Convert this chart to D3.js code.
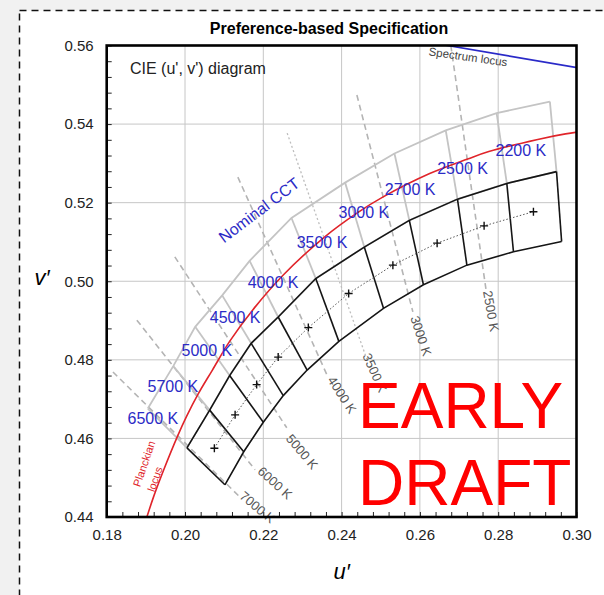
<!DOCTYPE html>
<html>
<head>
<meta charset="utf-8">
<script src="https://cdn.jsdelivr.net/npm/d3@7"></script>
<style>
  body { margin: 0; background: #f1f1f1; }
  svg text { font-family: "Liberation Sans", Arial, sans-serif; }
</style>
</head>
<body>
<div id="container"></div>
<script>
/* CONSTANTS AND GLOBALS */
const width = 604;
const height = 595;
const margin = {top: 45.5, bottom: 78, left: 106.7, right: 27.5};

/* DATA */
const uTicks = [0.18, 0.20, 0.22, 0.24, 0.26, 0.28, 0.30];
const vTicks = [0.44, 0.46, 0.48, 0.50, 0.52, 0.54, 0.56];

// Planckian locus, u' and v' by CCT
const planckT = [11000, 10000, 9000, 8000, 7000, 6500, 6000, 5500, 5000, 4500, 4000, 3500, 3200, 3000, 2700, 2500, 2400, 2200, 2100, 2000];
const planckU = [0.1889, 0.1903, 0.1921, 0.1946, 0.1981, 0.2004, 0.2033, 0.2070, 0.2114, 0.2173, 0.2251, 0.2357, 0.2440, 0.2505, 0.2625, 0.2722, 0.2776, 0.2901, 0.2972, 0.3051];
const planckV = [0.4355, 0.4401, 0.4455, 0.4521, 0.4606, 0.4656, 0.4712, 0.4774, 0.4847, 0.4927, 0.5016, 0.5113, 0.5174, 0.5214, 0.5274, 0.5311, 0.5330, 0.5361, 0.5375, 0.5386];

// spectrum locus segment
const specU = [0.2600, 0.3100];
const specV = [0.5612, 0.5527];

// nominal CCT quadrangles: outer corners and shared inner corners
const nomCCT = ["6500 K", "5700 K", "5000 K", "4500 K", "4000 K", "3500 K", "3000 K", "2700 K", "2500 K", "2200 K"];
const nomOuterU = [0.1905, 0.1970, 0.2026, 0.2095, 0.2165, 0.2272, 0.2409, 0.2535, 0.2666, 0.2796, 0.2932];
const nomOuterV = [0.4676, 0.4784, 0.4884, 0.4964, 0.5052, 0.5161, 0.5251, 0.5325, 0.5384, 0.5428, 0.5457];
const nomInnerU = [0.2005, 0.2063, 0.2114, 0.2169, 0.2238, 0.2334, 0.2458, 0.2573, 0.2696, 0.2822, 0.2949];
const nomInnerV = [0.4576, 0.4672, 0.4760, 0.4842, 0.4909, 0.5007, 0.5087, 0.5155, 0.5209, 0.5249, 0.5279];

// preference-based quadrangles: lower corners and centres
const prefLowerU = [0.2102, 0.2150, 0.2200, 0.2251, 0.2312, 0.2393, 0.2507, 0.2609, 0.2720, 0.2839, 0.2962];
const prefLowerV = [0.4482, 0.4566, 0.4641, 0.4709, 0.4774, 0.4847, 0.4931, 0.4991, 0.5041, 0.5075, 0.5101];
const prefCenterU = [0.2075, 0.2128, 0.2183, 0.2238, 0.2315, 0.2418, 0.2531, 0.2644, 0.2764, 0.2890];
const prefCenterV = [0.4575, 0.4660, 0.4737, 0.4807, 0.4882, 0.4969, 0.5041, 0.5097, 0.5141, 0.5177];

// isotemperature lines
const isoCCT = ["7000 K", "6000 K", "5000 K", "4000 K", "3500 K", "3000 K", "2500 K"];
const isoU1 = [0.1816, 0.1877, 0.1974, 0.2135, 0.2261, 0.2439, 0.2679];
const isoV1 = [0.4769, 0.4901, 0.5062, 0.5265, 0.5377, 0.5474, 0.5600];
const isoU2 = [0.2140, 0.2179, 0.2260, 0.2363, 0.2465, 0.2582, 0.2769];
const isoV2 = [0.4451, 0.4520, 0.4627, 0.4761, 0.4800, 0.4922, 0.4978];
const isoDotted = [false, false, false, false, true, false, false];

// label anchors (data units) and angles
const nomLabelU = [0.1918, 0.1969, 0.2056, 0.2128, 0.2225, 0.2350, 0.2457, 0.2575, 0.2709, 0.2858];
const nomLabelV = [0.4652, 0.4733, 0.4825, 0.4907, 0.4998, 0.5100, 0.5176, 0.5235, 0.5286, 0.5332];
const isoLabelU = [0.2185, 0.2230, 0.2299, 0.2401, 0.2485, 0.2603, 0.2782];
const isoLabelV = [0.4425, 0.4487, 0.4566, 0.4711, 0.4767, 0.4861, 0.4924];
const isoLabelAngle = [40, 42, 50, 57, 66, 72, 80];

/* SCALES */
const xScale = d3.scaleLinear()
  .domain([0.18, 0.30])
  .range([margin.left, width - margin.right]);

const yScale = d3.scaleLinear()
  .domain([0.44, 0.56])
  .range([height - margin.bottom, margin.top]);

const pts = (us, vs) => us.map((u, i) => [xScale(u), yScale(vs[i])]);
const line = d3.line();

/* SVG */
const svg = d3.select("#container")
  .append("svg")
  .attr("width", width)
  .attr("height", height);

// dashed frame of the page
svg.append("rect")
  .attr("x", 19.5).attr("y", 10.5)
  .attr("width", width).attr("height", height)
  .attr("fill", "white")
  .attr("stroke", "#111")
  .attr("stroke-width", 1.5)
  .attr("stroke-dasharray", "7,5");

svg.append("clipPath").attr("id", "plot")
  .append("rect")
  .attr("x", margin.left).attr("y", margin.top)
  .attr("width", xScale(0.30) - margin.left)
  .attr("height", yScale(0.44) - margin.top);

// grid
const grid = svg.append("g").attr("stroke", "#c6c6c6").attr("stroke-width", 1);
grid.selectAll("line.gx").data(uTicks).join("line")
  .attr("x1", d => xScale(d)).attr("x2", d => xScale(d))
  .attr("y1", yScale(0.44)).attr("y2", yScale(0.56));
grid.selectAll("line.gy").data(vTicks).join("line")
  .attr("class", "gy")
  .attr("y1", d => yScale(d)).attr("y2", d => yScale(d))
  .attr("x1", xScale(0.18)).attr("x2", xScale(0.30));

const plot = svg.append("g").attr("clip-path", "url(#plot)");

// isotemperature lines
plot.selectAll("line.iso")
  .data(isoCCT)
  .join("line")
  .attr("class", "iso")
  .attr("x1", (d, i) => xScale(isoU1[i]))
  .attr("y1", (d, i) => yScale(isoV1[i]))
  .attr("x2", (d, i) => xScale(isoU2[i]))
  .attr("y2", (d, i) => yScale(isoV2[i]))
  .attr("stroke", (d, i) => isoDotted[i] ? "#bdbdbd" : "#b4b4b4")
  .attr("stroke-width", (d, i) => isoDotted[i] ? 1.3 : 1.6)
  .attr("stroke-dasharray", (d, i) => isoDotted[i] ? "2,2.5" : "6,4");

// nominal CCT quadrangles (grey)
const outer = pts(nomOuterU, nomOuterV);
const inner = pts(nomInnerU, nomInnerV);
const lower = pts(prefLowerU, prefLowerV);

const nom = plot.append("g").attr("fill", "none").attr("stroke", "#c4c4c4").attr("stroke-width", 1.8);
nom.append("path").attr("d", line(outer));
nom.append("path").attr("d", line(inner));
nom.selectAll("line").data(outer).join("line")
  .attr("x1", d => d[0]).attr("y1", d => d[1])
  .attr("x2", (d, i) => inner[i][0]).attr("y2", (d, i) => inner[i][1]);

// Planckian locus
plot.append("path")
  .attr("d", d3.line().curve(d3.curveCatmullRom)(pts(planckU, planckV)))
  .attr("fill", "none")
  .attr("stroke", "#e0242a")
  .attr("stroke-width", 1.6);

// spectrum locus
plot.append("path")
  .attr("d", line(pts(specU, specV)))
  .attr("fill", "none")
  .attr("stroke", "#2a2ac8")
  .attr("stroke-width", 1.6);

// preference-based quadrangles (black)
const pref = plot.append("g").attr("fill", "none").attr("stroke", "#151515").attr("stroke-width", 1.6);
pref.append("path").attr("d", line(inner));
pref.append("path").attr("d", line(lower));
pref.selectAll("line").data(inner).join("line")
  .attr("x1", d => d[0]).attr("y1", d => d[1])
  .attr("x2", (d, i) => lower[i][0]).attr("y2", (d, i) => lower[i][1]);

const centers = pts(prefCenterU, prefCenterV);
plot.append("path")
  .attr("d", line(centers))
  .attr("fill", "none")
  .attr("stroke", "#555")
  .attr("stroke-width", 1)
  .attr("stroke-dasharray", "1.5,2");

plot.selectAll("path.cross")
  .data(centers)
  .join("path")
  .attr("class", "cross")
  .attr("d", d => `M${d[0] - 4},${d[1]}H${d[0] + 4}M${d[0]},${d[1] - 4}V${d[1] + 4}`)
  .attr("stroke", "#111")
  .attr("stroke-width", 1.4);

// labels
svg.selectAll("text.iso")
  .data(isoCCT)
  .join("text")
  .attr("class", "iso")
  .attr("transform", (d, i) => `translate(${xScale(isoLabelU[i])},${yScale(isoLabelV[i])}) rotate(${isoLabelAngle[i]})`)
  .attr("text-anchor", "middle")
  .attr("dy", "0.35em")
  .attr("font-size", 13)
  .attr("fill", "#555")
  .text(d => d);

svg.selectAll("text.nom")
  .data(nomCCT)
  .join("text")
  .attr("class", "nom")
  .attr("x", (d, i) => xScale(nomLabelU[i]))
  .attr("y", (d, i) => yScale(nomLabelV[i]))
  .attr("text-anchor", "middle")
  .attr("dy", "0.35em")
  .attr("font-size", 16)
  .attr("fill", "#2b2bc6")
  .text(d => d);

svg.append("text")
  .attr("transform", `translate(${xScale(0.2189)},${yScale(0.5181)}) rotate(-37)`)
  .attr("text-anchor", "middle").attr("dy", "0.35em")
  .attr("font-size", 16).attr("fill", "#2b2bc6")
  .text("Nominal CCT");

const planckLabel = svg.append("text")
  .attr("transform", `translate(${xScale(0.1885)},${yScale(0.4475)}) rotate(-71)`)
  .attr("font-size", 11).attr("fill", "#e0242a");
planckLabel.append("tspan").attr("x", 0).attr("dy", "0").text("Planckian");
planckLabel.append("tspan").attr("x", 0).attr("dy", "1.4em").text("locus");

svg.append("text")
  .attr("transform", `translate(${xScale(0.2723)},${yScale(0.5571)}) rotate(8)`)
  .attr("text-anchor", "middle").attr("dy", "0.35em")
  .attr("font-size", 11.5).attr("fill", "#444")
  .text("Spectrum locus");

svg.append("text")
  .attr("x", 130).attr("y", 74)
  .attr("font-size", 16).attr("fill", "#222")
  .text("CIE (u', v') diagram");

// draft stamp
const stamp = svg.append("g").attr("fill", "#ff0000").attr("font-size", 64);
stamp.append("text").attr("x", 358).attr("y", 428).text("EARLY");
stamp.append("text").attr("x", 358).attr("y", 505).text("DRAFT");

/* AXES */
const xAxisGroup = svg.append("g")
  .attr("transform", `translate(0,${yScale(0.44)})`)
  .call(d3.axisBottom(xScale).tickValues(uTicks).tickFormat(d3.format(".2f")).tickSize(0).tickPadding(12));
const yAxisGroup = svg.append("g")
  .attr("transform", `translate(${xScale(0.18)},0)`)
  .call(d3.axisLeft(yScale).tickValues(vTicks).tickFormat(d3.format(".2f")).tickSize(0).tickPadding(13));

svg.append("g")
  .attr("transform", `translate(0,${yScale(0.44)})`)
  .call(d3.axisBottom(xScale).tickValues(d3.range(0.18, 0.3001, 0.004)).tickFormat("").tickSize(-5));
svg.append("g")
  .attr("transform", `translate(${xScale(0.18)},0)`)
  .call(d3.axisLeft(yScale).tickValues(d3.range(0.44, 0.5601, 0.004)).tickFormat("").tickSize(-5));

svg.selectAll(".domain").remove();
svg.selectAll(".tick text").attr("font-size", 15).attr("fill", "#222")
  .attr("font-family", "Liberation Sans, Arial, sans-serif");
svg.selectAll(".tick line").attr("stroke", "#222");

svg.append("rect")
  .attr("x", xScale(0.18)).attr("y", yScale(0.56))
  .attr("width", xScale(0.30) - xScale(0.18))
  .attr("height", yScale(0.44) - yScale(0.56))
  .attr("fill", "none")
  .attr("stroke", "#000")
  .attr("stroke-width", 2.6);

// titles
svg.append("text")
  .attr("x", 329).attr("y", 34)
  .attr("text-anchor", "middle")
  .attr("font-size", 16).attr("font-weight", "bold")
  .text("Preference-based Specification");

svg.append("text")
  .attr("x", xScale(0.24)).attr("y", 579)
  .attr("text-anchor", "middle")
  .attr("font-family", "Liberation Serif, serif").attr("font-style", "italic")
  .attr("font-size", 22)
  .text("u\u2032");

svg.append("text")
  .attr("x", 42).attr("y", 285)
  .attr("text-anchor", "middle")
  .attr("font-family", "Liberation Serif, serif").attr("font-style", "italic")
  .attr("font-size", 22)
  .text("v\u2032");
</script>
</body>
</html>
